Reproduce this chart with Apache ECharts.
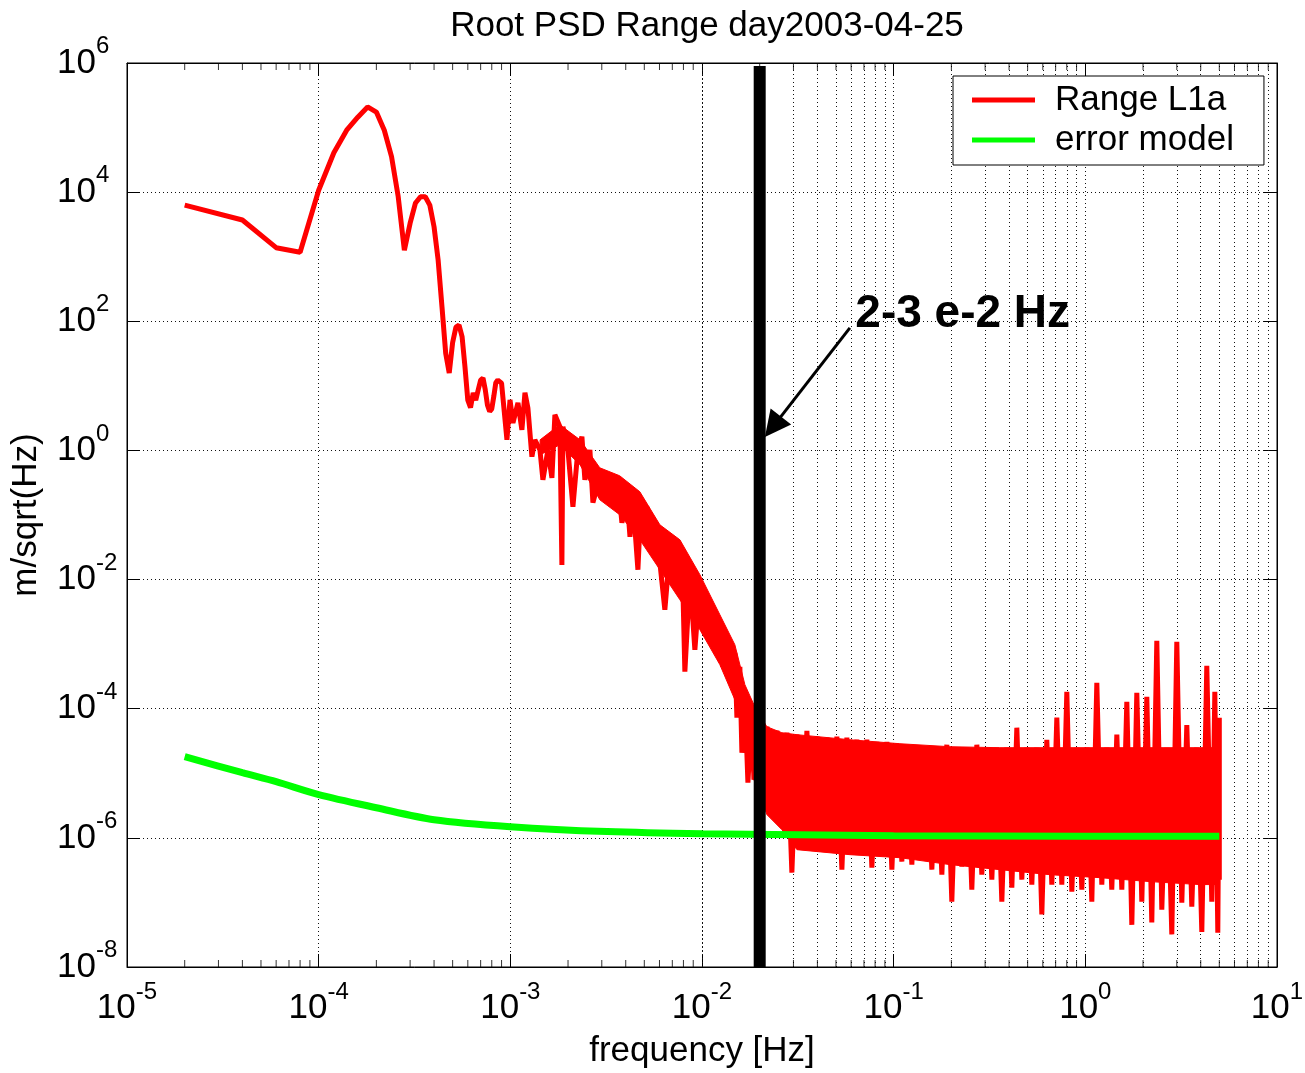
<!DOCTYPE html>
<html>
<head>
<meta charset="utf-8">
<script src="https://cdn.jsdelivr.net/npm/echarts@6/dist/echarts.min.js"></script>
<style>
html, body { margin: 0; padding: 0; background: #fff; }
#chart { width: 1305px; height: 1073px; }
</style>
</head>
<body>
<div id="chart"></div>
<script>
var FONT = "'Liberation Sans', Arial, Helvetica, sans-serif";

// Range L1a: frequency [Hz] and amplitude [m/sqrt(Hz)]
var redFreq = [
    2.0e-5, 4.0e-5, 6.0e-5, 8.0e-5, 1.0e-4, 1.2e-4, 1.4e-4, 1.6e-4, 1.8e-4, 2.0e-4,
    2.2e-4, 2.4e-4, 2.6e-4, 2.8e-4, 3.0e-4, 3.2e-4, 3.4e-4, 3.6e-4, 3.8e-4, 4.0e-4,
    4.2e-4, 4.4e-4, 4.6e-4, 4.8e-4, 5.0e-4, 5.2e-4, 5.4e-4, 5.6e-4, 5.8e-4, 6.0e-4,
    6.2e-4, 6.4e-4, 6.6e-4, 6.8e-4, 7.0e-4, 7.2e-4, 7.4e-4, 7.6e-4, 7.8e-4, 8.0e-4,
    8.2e-4, 8.4e-4, 8.6e-4, 8.8e-4, 9.0e-4,
    9.60e-4, 9.96e-4, 1.032e-3, 1.096e-3, 1.149e-3, 1.192e-3, 1.235e-3, 1.296e-3, 1.343e-3, 1.427e-3,
    1.479e-3, 1.571e-3, 1.648e-3, 1.708e-3, 1.814e-3, 1.858e-3, 1.881e-3, 1.997e-3, 2.121e-3, 2.252e-3,
    2.363e-3, 2.449e-3, 2.601e-3, 2.697e-3, 2.934e-3, 3.19e-3, 3.308e-3, 3.64e-3, 3.82e-3, 4.06e-3,
    4.21e-3, 4.36e-3, 4.63e-3, 4.74e-3, 5.16e-3, 5.54e-3, 6.03e-3, 6.40e-3, 6.80e-3, 7.39e-3,
    7.86e-3, 8.14e-3, 8.65e-3, 9.18e-3, 9.75e-3, 0.01011, 0.01100, 0.01168, 0.01240, 0.01285,
    0.01349, 0.01398, 0.01484, 0.01521, 0.01576, 0.01615, 0.01674, 0.01736, 0.01821, 0.01866,
    0.02182, 0.02317, 0.02459, 0.02611, 0.02773, 0.02944, 0.03127, 0.03320, 0.03526, 0.03744,
    0.03975, 0.04222, 0.04483, 0.04760, 0.05055, 0.05368, 0.05700, 0.06052, 0.06427, 0.06825,
    0.07247, 0.07696, 0.08171, 0.08677, 0.09214, 0.09786, 0.1039, 0.1103, 0.1172, 0.1244,
    0.1321, 0.1403, 0.1490, 0.1582, 0.1680, 0.1784, 0.1894, 0.2011, 0.2136, 0.2268,
    0.2408, 0.2557, 0.2716, 0.2884, 0.3062, 0.3252, 0.3453, 0.3667, 0.3894, 0.4135,
    0.4391, 0.4663, 0.4951, 0.5258, 0.5583, 0.5929, 0.6296, 0.6686, 0.7100, 0.7539,
    0.8006, 0.8502, 0.9028, 0.9587, 1.018, 1.081, 1.148, 1.219, 1.294, 1.374,
    1.460, 1.550, 1.646, 1.748, 1.856, 1.971, 2.093, 2.222, 2.360, 2.506,
    2.661, 2.826, 3.001, 3.187, 3.384, 3.593, 3.815, 4.052, 4.302, 4.569,
    4.738, 4.911, 5.0, 5.0
];
var redAmp = [
    6300, 3700, 1380, 1170, 10700, 40700, 91000, 145000, 209000, 174000,
    91000, 35500, 8500, 1260, 3300, 6800, 8500, 8500, 6300, 2900,
    890, 166, 32, 15.8, 47, 81, 87, 58, 19.5, 6.0,
    4.6, 7.8, 6.0, 8.7, 12.3, 13.2, 8.7, 5.0, 4.0, 4.4,
    6.9, 11.2, 12.3, 12.3, 11.0,
    1.46, 6.07, 2.67, 5.46, 2.08, 7.8, 4.56, 0.80, 1.46, 1.02,
    0.351, 1.02, 0.377, 3.56, 2.32, 0.0169, 2.32, 1.02, 0.134, 1.02,
    1.63, 0.351, 1.02, 0.155, 0.39, 0.45, 0.16, 0.351, 0.0757, 0.191,
    0.046, 0.172, 0.0142, 0.0656, 0.134, 0.0372, 0.0182, 3.41e-3, 0.0289, 0.0182,
    0.0289, 3.74e-4, 0.0110, 8.2e-4, 8.9e-3, 1.86e-3, 4.38e-3, 1.05e-3, 1.86e-3, 4.47e-4,
    1.17e-3, 2.81e-4, 7.36e-4, 7.26e-5, 4.47e-4, 2.08e-5, 1.53e-4, 7.15e-6, 9.66e-5, 7.96e-6,
    5.26e-5, 2.29e-6, 4.56e-5, 3.51e-6, 4.25e-5, 2.89e-7, 3.96e-5, 6.56e-7, 4.56e-5, 7.85e-7,
    3.69e-5, 6.56e-7, 3.56e-5, 7.85e-7, 3.69e-5, 3.22e-7, 3.56e-5, 5.49e-7, 3.31e-5, 6.56e-7,
    3.31e-5, 3.46e-7, 3.08e-5, 5.49e-7, 3.08e-5, 3.22e-7, 2.87e-5, 4.28e-7, 2.77e-5, 3.85e-7,
    2.67e-5, 4.60e-7, 2.58e-5, 3.22e-7, 2.58e-5, 2.69e-7, 2.77e-5, 1.03e-7, 2.49e-5, 3.58e-7,
    2.49e-5, 1.58e-7, 2.77e-5, 2.69e-7, 2.49e-5, 2.25e-7, 2.49e-5, 1.03e-7, 2.49e-5, 1.69e-7,
    5.08e-5, 2.25e-7, 2.49e-5, 1.89e-7, 2.49e-5, 6.5e-8, 3.31e-5, 1.89e-7, 7.26e-5, 1.89e-7,
    1.83e-4, 1.47e-7, 2.49e-5, 1.58e-7, 2.49e-5, 1.03e-7, 2.52e-4, 1.89e-7, 2.49e-5, 1.58e-7,
    3.96e-5, 1.58e-7, 1.28e-4, 4.5e-8, 1.77e-4, 1.03e-7, 1.53e-4, 4.9e-8, 1.13e-3, 7.7e-8,
    2.49e-5, 3.2e-8, 1.09e-3, 9.9e-8, 5.6e-5, 8.6e-8, 2.49e-5, 3.5e-8, 4.63e-4, 1.03e-7,
    1.83e-4, 3.4e-8, 7.26e-5, 2.25e-7
];

// 噪声带的主体 (上下包络)
var bandFreq = [
    1.43e-3, 1.81e-3, 2.31e-3, 2.93e-3, 3.72e-3, 4.74e-3, 6.03e-3, 7.67e-3, 9.75e-3, 0.0124,
    0.01484, 0.01674, 0.01866, 0.0218, 0.0261, 0.0313, 0.0591, 0.1077, 0.1964, 0.358,
    0.653, 1.19, 2.17, 3.96, 5.0
];
var bandTop = [
    1.46, 2.5, 1.46, 0.538, 0.405, 0.229, 0.0705, 0.0413, 0.0119, 2.85e-3,
    9.8e-4, 2.36e-4, 1.15e-4, 5.26e-5, 4.25e-5, 3.96e-5, 3.31e-5, 2.87e-5, 2.58e-5, 2.49e-5,
    2.49e-5, 2.49e-5, 2.49e-5, 2.49e-5, 2.49e-5
];
var bandBottom = [
    0.855, 1.22, 0.60, 0.172, 0.101, 0.0413, 0.0142, 4.86e-3, 1.67e-3, 4.8e-4,
    1.38e-4, 3.31e-5, 7.96e-6, 2.29e-6, 1.34e-6, 6.56e-7, 5.49e-7, 4.93e-7, 3.85e-7, 3.22e-7,
    2.69e-7, 2.42e-7, 2.1e-7, 1.89e-7, 1.89e-7
];

// error model
var greenFreq = [2e-5, 4e-5, 6e-5, 1e-4, 2e-4, 4e-4, 1e-3, 3.2e-3, 1e-2, 0.1, 1, 5];
var greenAmp = [1.81e-5, 1.02e-5, 7.4e-6, 4.67e-6, 2.93e-6, 1.91e-6, 1.49e-6, 1.25e-6, 1.16e-6, 1.08e-6, 1.06e-6, 1.06e-6];

// 标记线 2-3 e-2 Hz
var markerFreq = [0.02, 0.02];
var markerAmp = [1e-8, 9e5];
var arrowFreq = [0.0591, 0.02344];
var arrowAmp = [79, 2.32];
var noteFreq = 0.0627;
var noteAmp = 126;
var noteText = '2-3 e-2 Hz';

// 坐标轴范围
var xMin = 1e-5, xMax = 10;
var yMin = 1e-8, yMax = 1e6;

// minor log positions (2..9 in each decade)
var minorX = [];
for (var d = -5; d <= 0; d++) {
    for (var k = 2; k <= 9; k++) {
        minorX.push(parseFloat((k * Math.pow(10, d)).toPrecision(3)));
    }
}

function zip(a, b) {
    return a.map(function (v, i) { return [v, b[i]]; });
}

function powLabel(v) {
    return '{b|10}{s|' + Math.round(Math.log10(v)) + '}';
}

var labelRich = {
    b: { fontSize: 35, lineHeight: 57, fontFamily: FONT, color: '#000' },
    s: { fontSize: 24, lineHeight: 24, verticalAlign: 'top', fontFamily: FONT, color: '#000' }
};

var dotted = { color: '#111', width: 1, type: [1, 3] };

var myChart = echarts.init(document.getElementById('chart'));

var option = {
    animation: false,
    backgroundColor: '#fff',
    textStyle: { fontFamily: FONT },
    title: {
        text: 'Root PSD Range day2003-04-25',
        left: 702,
        textAlign: 'center',
        top: 4,
        textStyle: { fontSize: 35, fontWeight: 'normal', color: '#000', fontFamily: FONT }
    },
    grid: {
        left: 127,
        right: 28,
        top: 63,
        bottom: 106,
        show: true,
        borderColor: '#000',
        borderWidth: 1,
        backgroundColor: '#fff',
        outerBoundsMode: 'none'
    },
    legend: {
        data: ['Range L1a', 'error model'],
        orient: 'vertical',
        left: 953,
        top: 76,
        padding: [4, 30, 5, 19],
        itemGap: 0,
        icon: 'rect',
        itemWidth: 63,
        itemHeight: 5,
        backgroundColor: '#fff',
        borderColor: '#000',
        borderWidth: 1,
        borderRadius: 0,
        selectedMode: false,
        textStyle: {
            fontSize: 35,
            lineHeight: 40,
            color: '#000',
            fontFamily: FONT,
            padding: [0, 0, 0, 15]
        }
    },
    xAxis: [
        {
            type: 'log',
            logBase: 10,
            min: xMin,
            max: xMax,
            interval: 1,
            name: 'frequency [Hz]',
            nameLocation: 'middle',
            nameGap: 67,
            nameTextStyle: { fontSize: 35, color: '#000', fontFamily: FONT },
            axisLine: { show: true, lineStyle: { color: '#000', width: 1 } },
            axisTick: { show: true, inside: true, length: 13, lineStyle: { color: '#000' } },
            axisLabel: { margin: 13, interval: 0, formatter: powLabel, rich: labelRich },
            splitLine: { show: true, lineStyle: dotted }
        },
        {
            type: 'log',
            logBase: 10,
            position: 'top',
            min: xMin,
            max: xMax,
            interval: 1,
            axisLine: { show: true, lineStyle: { color: '#000', width: 1 } },
            axisTick: { show: true, inside: true, length: 13, lineStyle: { color: '#000' } },
            axisLabel: { show: false },
            splitLine: { show: false }
        }
    ],
    yAxis: [
        {
            type: 'log',
            logBase: 10,
            min: yMin,
            max: yMax,
            interval: 2,
            name: 'm/sqrt(Hz)',
            nameLocation: 'middle',
            nameGap: 83,
            nameTextStyle: { fontSize: 35, color: '#000', fontFamily: FONT },
            axisLine: { show: true, lineStyle: { color: '#000', width: 1 } },
            axisTick: { show: true, inside: true, length: 13, lineStyle: { color: '#000' } },
            axisLabel: { margin: 70, align: 'left', interval: 0, formatter: powLabel, rich: labelRich },
            splitLine: { show: true, lineStyle: dotted }
        },
        {
            type: 'log',
            logBase: 10,
            position: 'right',
            min: yMin,
            max: yMax,
            interval: 2,
            axisLine: { show: true, lineStyle: { color: '#000', width: 1 } },
            axisTick: { show: true, inside: true, length: 13, lineStyle: { color: '#000' } },
            axisLabel: { show: false },
            splitLine: { show: false }
        }
    ],
    series: [
        {
            // 次网格线
            name: 'minorGrid',
            type: 'line',
            data: [],
            silent: true,
            markLine: {
                z: 1,
                silent: true,
                symbol: 'none',
                animation: false,
                label: { show: false },
                lineStyle: dotted,
                data: minorX.map(function (x) { return { xAxis: x }; })
            }
        },
        {
            // 噪声带填充
            name: 'band',
            type: 'custom',
            z: 2,
            silent: true,
            data: [[bandFreq[0], bandTop[0]]],
            renderItem: function (params, api) {
                var pts = [];
                var i;
                for (i = 0; i < bandFreq.length; i++) {
                    pts.push(api.coord([bandFreq[i], bandTop[i]]));
                }
                for (i = bandFreq.length - 1; i >= 0; i--) {
                    pts.push(api.coord([bandFreq[i], bandBottom[i]]));
                }
                return {
                    type: 'polygon',
                    shape: { points: pts },
                    style: { fill: '#ff0000', stroke: '#ff0000', lineWidth: 1 }
                };
            }
        },
        {
            name: 'Range L1a',
            type: 'line',
            z: 2,
            data: zip(redFreq, redAmp),
            symbol: 'none',
            showSymbol: false,
            sampling: null,
            silent: true,
            lineStyle: { color: '#ff0000', width: 5, join: 'bevel' },
            itemStyle: { color: '#ff0000' }
        },
        {
            name: 'error model',
            type: 'line',
            z: 3,
            data: zip(greenFreq, greenAmp),
            smooth: 0.3,
            symbol: 'none',
            showSymbol: false,
            silent: true,
            lineStyle: { color: '#00ff00', width: 7 },
            itemStyle: { color: '#00ff00' }
        },
        {
            name: 'marker',
            type: 'line',
            z: 4,
            data: zip(markerFreq, markerAmp),
            symbol: 'none',
            showSymbol: false,
            silent: true,
            lineStyle: { color: '#000', width: 12, cap: 'butt' },
            itemStyle: { color: '#000' },
            markLine: {
                silent: true,
                animation: false,
                symbol: ['none', 'triangle'],
                symbolSize: 26,
                label: { show: false },
                lineStyle: { color: '#000', width: 3, type: 'solid' },
                itemStyle: { color: '#000' },
                data: [[
                    { coord: [arrowFreq[0], arrowAmp[0]] },
                    { coord: [arrowFreq[1], arrowAmp[1]] }
                ]]
            },
            markPoint: {
                silent: true,
                animation: false,
                symbol: 'circle',
                symbolSize: 1,
                itemStyle: { color: 'rgba(0,0,0,0)' },
                label: {
                    show: true,
                    position: 'right',
                    distance: 0,
                    formatter: noteText,
                    fontSize: 46,
                    fontWeight: 'bold',
                    color: '#000',
                    fontFamily: FONT
                },
                data: [{ coord: [noteFreq, noteAmp] }]
            }
        },
        {
            // 底部次刻度
            name: 'tickBottom',
            type: 'scatter',
            z: 5,
            clip: false,
            silent: true,
            symbol: 'rect',
            symbolSize: [1, 7],
            symbolOffset: [0, -3.5],
            itemStyle: { color: '#000' },
            data: minorX.map(function (x) { return [x, yMin]; })
        },
        {
            // 顶部次刻度
            name: 'tickTop',
            type: 'scatter',
            z: 5,
            clip: false,
            silent: true,
            symbol: 'rect',
            symbolSize: [1, 7],
            symbolOffset: [0, 3.5],
            itemStyle: { color: '#000' },
            data: minorX.map(function (x) { return [x, yMax]; })
        }
    ]
};

myChart.setOption(option);
</script>
</body>
</html>
